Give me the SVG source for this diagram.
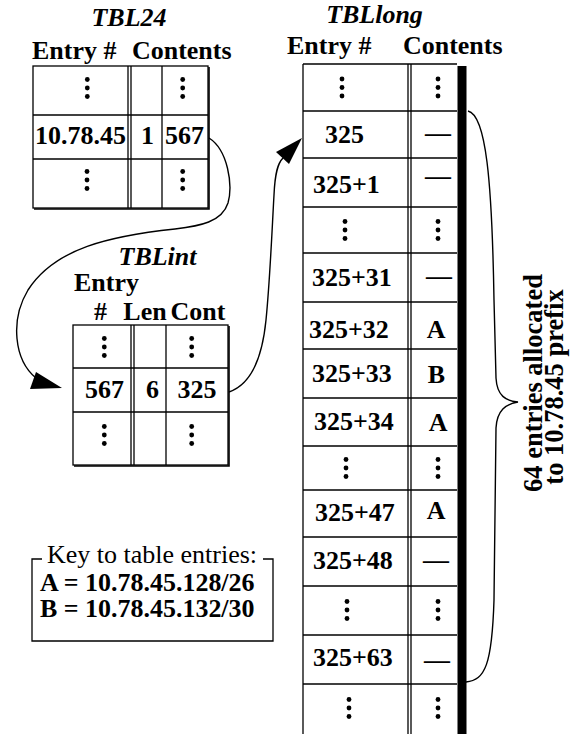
<svg xmlns="http://www.w3.org/2000/svg" xmlns:xlink="http://www.w3.org/1999/xlink" width="571" height="734" viewBox="0 0 571 734">
<style>
text{font-family:"Liberation Serif","Times New Roman",serif;fill:#000}
.b{font-weight:bold;font-size:24.5px}
.bi{font-weight:bold;font-style:italic;font-size:24.5px}
.r{font-weight:normal;font-size:26px}
.m{text-anchor:middle}
.g line,.g rect,.g polyline{stroke:#000;stroke-width:1.3;fill:none}
.g .sh{stroke-width:1.6}
.conn path{fill:none;stroke:#000;stroke-width:1.4}
.conn polygon{fill:#000;stroke:none}
</style>
<defs>
<g id="vd"><circle cx="0" cy="-8.5" r="2.4"/><circle cx="0" cy="0" r="2.4"/><circle cx="0" cy="8.5" r="2.4"/></g>
</defs>
<rect width="571" height="734" fill="#fff"/>

<g id="tbl24" class="g">
<text class="bi m" transform="translate(129,26) scale(1.06,1)">TBL24</text>
<text class="b" transform="translate(32,59) scale(1.06,1)">Entry #</text>
<text class="b" transform="translate(132,59) scale(1.06,1)">Contents</text>
<rect x="33" y="66" width="175" height="142"/>
<polyline class="sh" points="209,67 209,209 34,209"/>
<line x1="33" y1="115" x2="208" y2="115"/>
<line x1="33" y1="159" x2="208" y2="159"/>
<line x1="128" y1="66" x2="128" y2="208"/>
<line x1="131" y1="66" x2="131" y2="208"/>
<line x1="162" y1="66" x2="162" y2="208"/>
<use xlink:href="#vd" x="87.3" y="88"/>
<use xlink:href="#vd" x="182.7" y="88"/>
<text class="b" transform="translate(35,144) scale(1.06,1)">10.78.45</text>
<text class="b m" transform="translate(147.5,144) scale(1.06,1)">1</text>
<text class="b m" transform="translate(184.5,144) scale(1.06,1)">567</text>
<use xlink:href="#vd" x="87" y="180"/>
<use xlink:href="#vd" x="182.7" y="180"/>
</g>

<g id="tblint" class="g">
<text class="bi m" transform="translate(157.5,265) scale(1.06,1)">TBLint</text>
<text class="b" transform="translate(74,291) scale(1.06,1)">Entry</text>
<text class="b" transform="translate(94,320) scale(1.06,1)">#</text>
<text class="b m" transform="translate(145,320) scale(1.06,1)">Len</text>
<text class="b m" transform="translate(198,320) scale(1.06,1)">Cont</text>
<rect x="73" y="325" width="155" height="140"/>
<polyline class="sh" points="229,326 229,466 74,466"/>
<line x1="73" y1="368" x2="228" y2="368"/>
<line x1="73" y1="412" x2="228" y2="412"/>
<line x1="131" y1="325" x2="131" y2="465"/>
<line x1="134" y1="325" x2="134" y2="465"/>
<line x1="166" y1="325" x2="166" y2="465"/>
<use xlink:href="#vd" x="104.3" y="347"/>
<use xlink:href="#vd" x="191.7" y="347"/>
<text class="b m" transform="translate(104.5,398) scale(1.06,1)">567</text>
<text class="b m" transform="translate(152.5,398) scale(1.06,1)">6</text>
<text class="b m" transform="translate(197,398) scale(1.06,1)">325</text>
<use xlink:href="#vd" x="104.3" y="435"/>
<use xlink:href="#vd" x="191.7" y="435"/>
</g>

<g id="key" class="g">
<polyline points="42,559 32,559 32,641 273,641 273,559 263,559"/>
<text class="r" x="47" y="563">Key to table entries:</text>
<text class="b" transform="translate(40,591) scale(1.06,1)">A = 10.78.45.128/26</text>
<text class="b" transform="translate(40,617) scale(1.06,1)">B = 10.78.45.132/30</text>
</g>

<g id="tbllong" class="g">
<text class="bi m" transform="translate(374.5,23) scale(1.06,1)">TBLlong</text>
<text class="b" transform="translate(287,54) scale(1.06,1)">Entry #</text>
<text class="b" transform="translate(403,54) scale(1.06,1)">Contents</text>
<line x1="303" y1="64" x2="303" y2="734"/>
<line x1="303" y1="64" x2="457" y2="64"/>
<line x1="408" y1="64" x2="408" y2="734"/>
<line x1="411" y1="64" x2="411" y2="734"/>
<rect x="457.5" y="66" width="9" height="668" style="fill:#000;stroke:none"/>
<line x1="303" y1="111" x2="457" y2="111"/>
<line x1="303" y1="158" x2="457" y2="158"/>
<line x1="303" y1="207" x2="457" y2="207"/>
<line x1="303" y1="253" x2="457" y2="253"/>
<line x1="303" y1="302" x2="457" y2="302"/>
<line x1="303" y1="349" x2="457" y2="349"/>
<line x1="303" y1="398" x2="457" y2="398"/>
<line x1="303" y1="446" x2="457" y2="446"/>
<line x1="303" y1="490" x2="457" y2="490"/>
<line x1="303" y1="537" x2="457" y2="537"/>
<line x1="303" y1="586" x2="457" y2="586"/>
<line x1="303" y1="635" x2="457" y2="635"/>
<line x1="303" y1="684" x2="457" y2="684"/>
<use xlink:href="#vd" x="342" y="87.5"/>
<use xlink:href="#vd" x="438" y="87.5"/>
<text class="b" transform="translate(325,143) scale(1.06,1)">325</text>
<text class="b m" transform="translate(438,141) scale(1.06,1)">—</text>
<text class="b" transform="translate(313,193) scale(1.06,1)">325+1</text>
<text class="b m" transform="translate(438,184) scale(1.06,1)">—</text>
<use xlink:href="#vd" x="345" y="230"/>
<use xlink:href="#vd" x="438" y="230"/>
<text class="b" transform="translate(312,286) scale(1.06,1)">325+31</text>
<text class="b m" transform="translate(439,284) scale(1.06,1)">—</text>
<text class="b" transform="translate(309,338) scale(1.06,1)">325+32</text>
<text class="b m" transform="translate(436,338) scale(1.06,1)">A</text>
<text class="b" transform="translate(312,382) scale(1.06,1)">325+33</text>
<text class="b m" transform="translate(436.5,383) scale(1.06,1)">B</text>
<text class="b" transform="translate(314,430) scale(1.06,1)">325+34</text>
<text class="b m" transform="translate(438,431) scale(1.06,1)">A</text>
<use xlink:href="#vd" x="346" y="468"/>
<use xlink:href="#vd" x="438" y="468"/>
<text class="b" transform="translate(315,521) scale(1.06,1)">325+47</text>
<text class="b m" transform="translate(436,519) scale(1.06,1)">A</text>
<text class="b" transform="translate(313,569) scale(1.06,1)">325+48</text>
<text class="b m" transform="translate(436,568) scale(1.06,1)">—</text>
<use xlink:href="#vd" x="347" y="610"/>
<use xlink:href="#vd" x="438" y="610"/>
<text class="b" transform="translate(313,666) scale(1.06,1)">325+63</text>
<text class="b m" transform="translate(437,668) scale(1.06,1)">—</text>
<use xlink:href="#vd" x="349" y="708"/>
<use xlink:href="#vd" x="438" y="708"/>
</g>

<g id="brace-label">
<text class="b m" style="font-size:26.5px" transform="translate(542,383) rotate(-90)">64 entries allocated</text>
<text class="b m" style="font-size:26.5px" transform="translate(563,387) rotate(-90)">to 10.78.45 prefix</text>
</g>

<g id="connectors" class="conn">
<path d="M209,138 C228,150 233,185 228,203 C222,222 200,226 175,229 C110,236 55,248 28,290 C10,320 14,360 36,378"/>
<polygon points="62,388 30,389 36,372"/>
<path d="M229,392 C250,385 262,360 266,320 C270,280 272,230 274,195 C275,172 278,163 283,158"/>
<polygon points="302,138 276,152 289,164"/>
<path d="M468,111 C486,115 492,180 494,300 L496,378 C497,396 506,401 518,402 C506,404 497,410 496,428 L494,600 C492,665 485,680 466,682"/>
</g>
</svg>
